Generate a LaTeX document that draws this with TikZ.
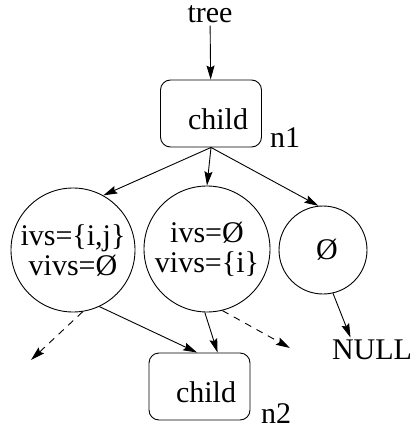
\documentclass[tikz,border=0pt]{standalone}
\usepackage{fontspec}
\setmainfont{Liberation Serif}
\usepackage{tikz}
\usetikzlibrary{arrows.meta,positioning}

\begin{document}
\begin{tikzpicture}[
  x=1pt,y=-1pt,
  line width=0.9pt,
  every node/.style={font=\fontsize{30}{30}\selectfont},
  cell/.style={
    rectangle,
    rounded corners=10pt,
    draw,
    minimum width=101pt,
    minimum height=67pt,
    text height=33pt,
    inner sep=0pt
  },
  set/.style={circle,draw,align=center,inner sep=0pt},
  tag/.style={inner sep=2pt},
  arrow/.style={-{Stealth[length=14pt,width=8pt,inset=2pt]}},
  lost/.style={arrow,dash pattern=on 7pt off 6pt}
]
\useasboundingbox (0,0) rectangle (420,431);
\node[tag,anchor=base] (tree) at (210,23) {tree};
\node[cell] (n1) at (211,113.5) {\hspace{14pt}child};
\node[tag] (n1tag) at (285,138) {n1};
\node[set,minimum size=124pt] (left) at (73,250) {ivs=\{i,j\}\\vivs=Ø};
\node[set,minimum size=126pt] (middle) at (207,249) {ivs=Ø\\vivs=\{i\}};
\node[set,minimum size=88pt] (right) at (323,250) {\hspace{8pt}Ø};
\node[cell] (n2) at (199.5,386.5) {\hspace{13pt}child};
\node[tag] (n2tag) at (276,414) {n2};
\node[tag] (null) at (372,350) {NULL};
\coordinate (leftout) at (31,360);
\coordinate (middleout) at (290,348);

\draw[arrow] (tree) -- (n1);
\draw[arrow] (n1.south) -- (left.61);
\draw[arrow] (n1.south) -- (middle.north);
\draw[arrow] (n1.south) -- (right.96);
\draw[lost] (left.-81) -- (leftout);
\draw[arrow] (left.-65) -- (n2.94);
\draw[arrow] (middle.-92) -- (n2.62);
\draw[lost] (middle.-76) -- (middleout);
\draw[arrow] (right.-77) -- (null.150);
\end{tikzpicture}
\end{document}
